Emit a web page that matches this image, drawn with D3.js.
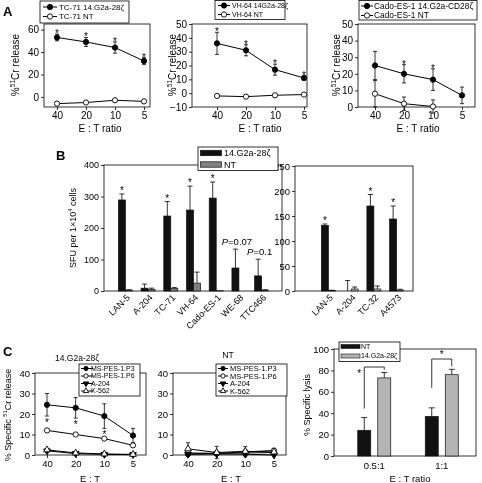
<!DOCTYPE html>
<html><head><meta charset="utf-8">
<script src="https://cdn.jsdelivr.net/npm/d3@7"></script>
<style>
body{margin:0;background:#fff}svg{display:block;will-change:transform}
svg text{font-family:"Liberation Sans", Arial, Helvetica, sans-serif; fill:#000;}
</style>
</head><body>
<script>
// ---------- DATA ----------
const etRatios = ["40","20","10","5"];
// Panel A
const a1Names = ["TC-71 14.G2a-28ζ","TC-71 NT"];
const a1Car = [53,49,44,32], a1CarErr = [3,4,5,3];
const a1NT = [-6,-5,-3,-4], a1NTErr = [1.5,1.2,1.5,1.2];
const a1Stars = ["*","*","*","*"];
const a2Names = ["VH-64 14G2a-28ζ","VH-64 NT"];
const a2Car = [36,31,17,11], a2CarErr = [8,4,4,1.5];
const a2NT = [-2,-2.5,-1.5,-1], a2NTErr = [0.8,0.8,0.8,0.8];
const a2Stars = ["*","*","*","*"];
const a3Names = ["Cado-ES-1 14.G2a-CD28ζ","Cado-ES-1 NT"];
const a3Car = [25,20,16.5,7], a3CarErr = [8.5,5.5,6.5,5];
const a3NT = [8,2,0.3,null], a3NTErr = [8,4,4,0];
const a3Stars = ["","*","*",""];
// Panel B
const bLegend = ["14.G2a-28ζ","NT"];
const b1Cats = ["LAN-5","A-204","TC-71","VH-64","Cado-ES-1","WE-68","TTC466"];
const b1Car = [289,9,238,257,295,73,48], b1CarErr = [19,13,46,76,51,60,53];
const b1NT = [3,5,8,25,1,0,3], b1NTErr = [1,4,3,35,0,0,1];
const b1Sig = ["*","","*","*","*","P=0.07","P=0.1"];
const b2Cats = ["LAN-5","A-204","TC-32","A4573"];
const b2Car = [131,0,170,144], b2CarErr = [3,21,23,26];
const b2NT = [1,4,4,2], b2NTErr = [0.5,4,6,1.5];
const b2Sig = ["*","","*","*"];
// Panel C
const cNames = ["MS-PES-1.P3","MS-PES-1.P6","A-204","K-562"];
const c1P3 = [24.5,23,19,9.5], c1P3Err = [5.5,5,6,3.5];
const c1P6 = [12,10,8,4.7], c1P6Err = [0.5,0.5,0.5,0.6];
const c1A204 = [2,0.7,0.3,0.2], c1A204Err = [0.3,0.3,0.2,0.2];
const c1K562 = [2.5,1,0.5,0.3], c1K562Err = [0.4,0.3,0.2,0.2];
const c1Stars = ["*","*","*",""];
const c2P3 = [0.5,0.8,1,1.2], c2P3Err = [0.5,0.5,0.5,0.5];
const c2P6 = [1,0.8,1.5,2.2], c2P6Err = [0.5,0.5,0.5,0.5];
const c2A204 = [0.3,0.5,0.4,0], c2A204Err = [0.3,0.3,0.3,0];
const c2K562 = [3,1.2,1.8,1.5], c2K562Err = [3,3,2.3,1.5];
const c3Cats = ["0.5:1","1:1"];
const c3Legend = ["NT","14.G2a-28ζ"];
const c3NT = [24,37], c3NTErr = [12,8];
const c3Car = [73,76], c3CarErr = [5,5];

// ---------- DRAWING ----------
const FONT = "'Liberation Sans', Arial, Helvetica, sans-serif";
const STAR = "*";
const svg = d3.select("body").append("svg").attr("width",482).attr("height",483)
  .attr("font-family",FONT);

function symPath(shape,small){
  const t = (shape==="tri"||shape==="triDown") ? d3.symbolTriangle : d3.symbolCircle;
  const base = shape.startsWith("tri")?20:22;
  return d3.symbol().type(t).size(small?base*0.65:base)();
}
function marker(g,x,y,shape,fill,small){
  g.append("path").attr("d",symPath(shape,small))
    .attr("transform",`translate(${x},${y})${shape==="triDown"?" rotate(180)":""}`)
    .attr("fill",fill?"#000":"#fff").attr("stroke","#000").attr("stroke-width",0.9);
}
function styleAxis(a,fs){
  a.select(".domain").remove();
  a.attr("font-family",FONT).attr("font-size",fs);
  a.selectAll("text").attr("fill","#000");
  a.selectAll("line").attr("stroke","#000").attr("stroke-width",0.8);
}
function rotLabel(x,y,fs,parts){
  const t = svg.append("text").attr("transform",`translate(${x},${y}) rotate(-90)`)
    .attr("text-anchor","middle").attr("font-size",fs).attr("fill","#000");
  parts.forEach(p=>{
    const s = t.append("tspan").text(p.t);
    if(p.sup){ s.attr("font-size",fs*0.65).attr("dy",-fs*0.4); }
    else if(p.after){ s.attr("dy",fs*0.4); }
  });
}
function lineLegend(o){
  const g = svg.append("g");
  g.append("rect").attr("x",o.x0).attr("y",o.y0).attr("width",o.x1-o.x0).attr("height",o.y1-o.y0)
    .attr("fill","#fff").attr("stroke","#000").attr("stroke-width",0.8);
  o.items.forEach((it,i)=>{
    const y = o.rows[i];
    g.append("line").attr("x1",o.lx0).attr("x2",o.lx1).attr("y1",y).attr("y2",y).attr("stroke","#000").attr("stroke-width",1);
    marker(g,o.mx,y,it.shape,it.fill,o.small);
    g.append("text").attr("x",o.tx).attr("y",y).attr("dy","0.35em").attr("font-size",o.fs).text(it.label);
  });
}
function linePanel(o){
  const g = svg.append("g");
  const y = d3.scaleLinear().domain(o.yDomain).range([o.box.y1,o.box.y0]);
  const x = d3.scalePoint().domain(etRatios).range(o.xr);
  g.append("rect").attr("x",o.box.x0).attr("y",o.box.y0).attr("width",o.box.x1-o.box.x0)
    .attr("height",o.box.y1-o.box.y0).attr("fill","none").attr("stroke","#000").attr("stroke-width",0.8);
  const ya = g.append("g").attr("transform",`translate(${o.box.x0},0)`)
    .call(d3.axisLeft(y).tickValues(o.yTicks).tickSize(3).tickPadding(2));
  styleAxis(ya,o.fs);
  const xa = g.append("g").attr("transform",`translate(0,${o.box.y1})`)
    .call(d3.axisBottom(x).tickSize(3).tickPadding(2));
  styleAxis(xa,o.fs);
  const layer = g.append("g");
  o.series.forEach(s=>{
    const pts = s.vals.map((v,i)=>({k:etRatios[i],v,e:s.errs[i]})).filter(d=>d.v!=null);
    layer.append("path").attr("d",d3.line().x(d=>x(d.k)).y(d=>y(d.v))(pts))
      .attr("fill","none").attr("stroke","#000").attr("stroke-width",1);
    pts.forEach(d=>{
      if(d.e>0){
        const cx=x(d.k), t=y(d.v+d.e), b=y(d.v-d.e);
        layer.append("line").attr("x1",cx).attr("x2",cx).attr("y1",t).attr("y2",b).attr("stroke","#000").attr("stroke-width",0.8);
        [t,b].forEach(yy=>layer.append("line").attr("x1",cx-2).attr("x2",cx+2).attr("y1",yy).attr("y2",yy).attr("stroke","#000").attr("stroke-width",0.8));
      }
    });
  });
  o.series.forEach(s=>{
    s.vals.forEach((v,i)=>{ if(v!=null) marker(layer,x(etRatios[i]),y(v),s.shape,s.fill); });
  });
  if(o.stars){
    const s0=o.series[0];
    o.stars.forEach((st,i)=>{
      if(!st) return;
      const v=s0.vals[i], e=s0.errs[i];
      const yy = o.starBelow ? y(v-e)+10 : y(v+e)+3;
      g.append("text").attr("x",x(etRatios[i])).attr("y",yy).attr("text-anchor","middle")
        .attr("font-size",10).text(STAR);
    });
  }
  if(o.xlabel) g.append("text").attr("x",o.xlabel.x).attr("y",o.xlabel.y).attr("text-anchor","middle")
    .attr("font-size",o.xlabel.fs).text(o.xlabel.t);
  return {x,y};
}
function barPanel(o){
  const g = svg.append("g");
  const y = d3.scaleLinear().domain(o.yDomain).range([o.box.y1,o.box.y0]);
  const x = d3.scaleBand().domain(o.cats).range(o.xr);
  const bw = 7;
  g.append("rect").attr("x",o.box.x0).attr("y",o.box.y0).attr("width",o.box.x1-o.box.x0)
    .attr("height",o.box.y1-o.box.y0).attr("fill","none").attr("stroke","#000").attr("stroke-width",0.8);
  const ya = g.append("g").attr("transform",`translate(${o.box.x0},0)`)
    .call(d3.axisLeft(y).tickValues(o.yTicks).tickSize(3).tickPadding(2));
  styleAxis(ya,o.fs);
  o.cats.forEach((c,i)=>{
    const gc = x(c)+x.bandwidth()/2;
    [[o.car[i],o.carErr[i],gc-bw,"#111"],[o.nt[i],o.ntErr[i],gc,o.ntFill]].forEach(([v,e,bx,fill])=>{
      const cx=bx+bw/2;
      if(e>0){
        g.append("line").attr("x1",cx).attr("x2",cx).attr("y1",y(v)).attr("y2",y(v+e)).attr("stroke","#000").attr("stroke-width",0.8);
        g.append("line").attr("x1",cx-2.5).attr("x2",cx+2.5).attr("y1",y(v+e)).attr("y2",y(v+e)).attr("stroke","#000").attr("stroke-width",0.8);
      }
      g.append("rect").attr("x",bx).attr("y",y(v)).attr("width",bw).attr("height",Math.max(0,y(0)-y(v)))
        .attr("fill",fill).attr("stroke","#111").attr("stroke-width",0.7);
    });
    const sig = o.sig[i];
    const top = y(o.car[i]+o.carErr[i]);
    if(sig==="*"){
      g.append("text").attr("x",gc-bw/2).attr("y",top).attr("text-anchor","middle").attr("font-size",10).text(STAR);
    } else if(sig){
      const t = g.append("text").attr("x",gc-2).attr("y",top-4).attr("text-anchor","middle").attr("font-size",9.5);
      t.append("tspan").attr("font-style","italic").text(sig.slice(0,1));
      t.append("tspan").text(sig.slice(1));
    }
    g.append("text").attr("transform",`translate(${gc+3},${o.box.y1+5}) rotate(-45)`)
      .attr("text-anchor","end").attr("dy","0.35em").attr("font-size",o.labelFs).text(c);
  });
}

// Panel letters
[["A",3,16],["B",56,160],["C",3,356]].forEach(([t,x,y])=>
  svg.append("text").attr("x",x).attr("y",y).attr("font-size",13).attr("font-weight","bold").text(t));

// ---- Panel A ----
const crLabel = [{t:"%"},{t:"51",sup:true},{t:"Cr release",after:true}];
linePanel({box:{x0:44,x1:150,y0:24,y1:107},yDomain:[-9,65],yTicks:[0,20,40,60],xr:[57,144],fs:10,
  series:[{vals:a1Car,errs:a1CarErr,shape:"circle",fill:true},{vals:a1NT,errs:a1NTErr,shape:"circle",fill:false}],
  stars:a1Stars,xlabel:{x:100,y:132,t:"E : T ratio",fs:10}});
rotLabel(18.5,65,10,crLabel);
lineLegend({x0:40,x1:129,y0:1,y1:23,rows:[7,16.5],lx0:43,lx1:57,mx:50,tx:59,fs:7.9,
  items:[{label:a1Names[0],shape:"circle",fill:true},{label:a1Names[1],shape:"circle",fill:false}]});

linePanel({box:{x0:192,x1:307,y0:24,y1:107},yDomain:[-10,50],yTicks:[-10,0,10,20,30,40,50],xr:[217,304],fs:10,
  series:[{vals:a2Car,errs:a2CarErr,shape:"circle",fill:true},{vals:a2NT,errs:a2NTErr,shape:"circle",fill:false}],
  stars:a2Stars,xlabel:{x:260,y:132,t:"E : T ratio",fs:10}});
rotLabel(175.5,65,10,crLabel);
lineLegend({x0:215,x1:285,y0:0.5,y1:19.5,rows:[5.5,14.5],lx0:218,lx1:230,mx:224,tx:232,fs:7,
  items:[{label:a2Names[0],shape:"circle",fill:true},{label:a2Names[1],shape:"circle",fill:false}]});

linePanel({box:{x0:358,x1:475,y0:24,y1:107},yDomain:[0,50],yTicks:[0,10,20,30,40,50],xr:[375,462],fs:10,
  series:[{vals:a3Car,errs:a3CarErr,shape:"circle",fill:true},{vals:a3NT,errs:a3NTErr,shape:"circle",fill:false}],
  stars:a3Stars,xlabel:{x:418,y:132,t:"E : T ratio",fs:10}});
rotLabel(339.5,65,10,crLabel);
lineLegend({x0:359,x1:477,y0:0.5,y1:20,rows:[6,15.5],lx0:361,lx1:373,mx:367,tx:374,fs:8.4,
  items:[{label:a3Names[0],shape:"circle",fill:true},{label:a3Names[1],shape:"circle",fill:false}]});

// ---- Panel B ----
barPanel({box:{x0:104,x1:282,y0:165,y1:291},yDomain:[0,400],yTicks:[0,100,200,300,400],xr:[114,273],fs:9,
  cats:b1Cats,car:b1Car,carErr:b1CarErr,nt:b1NT,ntErr:b1NTErr,ntFill:"#808080",sig:b1Sig,labelFs:9});
barPanel({box:{x0:295,x1:413,y0:166,y1:291},yDomain:[0,250],yTicks:[0,50,100,150,200,250],xr:[317,408],fs:9.5,
  cats:b2Cats,car:b2Car,carErr:b2CarErr,nt:b2NT,ntErr:b2NTErr,ntFill:"#b0b0b0",sig:b2Sig,labelFs:9});
rotLabel(76,228,9,[{t:"SFU per 1×10"},{t:"4",sup:true},{t:" cells",after:true}]);
{
  const g = svg.append("g");
  g.append("rect").attr("x",198).attr("y",147).attr("width",80).attr("height",23.5)
    .attr("fill","#fff").attr("stroke","#000").attr("stroke-width",0.8);
  [["#111",153,bLegend[0]],["#808080",164.5,bLegend[1]]].forEach(([f,yy,t])=>{
    g.append("rect").attr("x",200.5).attr("y",yy-2.7).attr("width",21).attr("height",5.4).attr("fill",f).attr("stroke","#111").attr("stroke-width",0.7);
    g.append("text").attr("x",224).attr("y",yy).attr("dy","0.35em").attr("font-size",9).text(t);
  });
}

// ---- Panel C ----
const cSeries1 = [
  {vals:c1P3,errs:c1P3Err,shape:"circle",fill:true},
  {vals:c1P6,errs:c1P6Err,shape:"circle",fill:false},
  {vals:c1A204,errs:c1A204Err,shape:"triDown",fill:true},
  {vals:c1K562,errs:c1K562Err,shape:"tri",fill:false}];
const cSeries2 = [
  {vals:c2P3,errs:c2P3Err,shape:"circle",fill:true},
  {vals:c2P6,errs:c2P6Err,shape:"circle",fill:false},
  {vals:c2A204,errs:c2A204Err,shape:"triDown",fill:true},
  {vals:c2K562,errs:c2K562Err,shape:"tri",fill:false}];
const cItems = cNames.map((n,i)=>({label:n,shape:cSeries1[i].shape,fill:cSeries1[i].fill}));

linePanel({box:{x0:35,x1:146,y0:373,y1:455},yDomain:[0,40],yTicks:[0,10,20,30,40],xr:[47,133],fs:9.5,
  series:cSeries1,stars:c1Stars,starBelow:true,xlabel:{x:90,y:482,t:"E : T",fs:9.5}});
svg.append("text").attr("x",77).attr("y",361).attr("text-anchor","middle").attr("font-size",8.5).text("14.G2a-28ζ");
rotLabel(11,415,9,[{t:"% Specific "},{t:"51",sup:true},{t:"Cr release",after:true}]);
lineLegend({x0:79,x1:140,y0:364,y1:396,rows:[368.5,376,383.5,391],lx0:81,lx1:93,mx:86,tx:91,fs:7,small:true,items:cItems});

linePanel({box:{x0:173,x1:286,y0:373,y1:455},yDomain:[0,40],yTicks:[0,10,20,30,40],xr:[188,274],fs:9.5,
  series:cSeries2,xlabel:{x:231,y:482,t:"E : T",fs:9.5}});
svg.append("text").attr("x",228).attr("y",358).attr("text-anchor","middle").attr("font-size",8.5).text("NT");
lineLegend({x0:216,x1:287,y0:364,y1:396,rows:[368.5,376,383.5,391],lx0:218,lx1:228,mx:223,tx:230,fs:7.5,small:true,items:cItems});

// C3 bars
{
  const box={x0:334,x1:476,y0:349,y1:456};
  const g = svg.append("g");
  const y = d3.scaleLinear().domain([0,100]).range([box.y1,box.y0]);
  const x = d3.scaleBand().domain(c3Cats).range([340.5,475.5]);
  const bw=13;
  g.append("rect").attr("x",box.x0).attr("y",box.y0).attr("width",box.x1-box.x0).attr("height",box.y1-box.y0)
    .attr("fill","none").attr("stroke","#000").attr("stroke-width",0.8);
  const ya = g.append("g").attr("transform",`translate(${box.x0},0)`)
    .call(d3.axisLeft(y).tickValues([0,20,40,60,80,100]).tickSize(3).tickPadding(2));
  styleAxis(ya,9.5);
  const xa = g.append("g").attr("transform",`translate(0,${box.y1})`)
    .call(d3.axisBottom(x).tickSize(0).tickPadding(6));
  styleAxis(xa,9.5);
  c3Cats.forEach((c,i)=>{
    const gc = x(c)+x.bandwidth()/2;
    const bars = [[c3NT[i],c3NTErr[i],gc-16.5,"#111"],[c3Car[i],c3CarErr[i],gc+3.5,"#b4b4b4"]];
    bars.forEach(([v,e,bx,f])=>{
      const cx=bx+bw/2;
      g.append("line").attr("x1",cx).attr("x2",cx).attr("y1",y(v)).attr("y2",y(v+e)).attr("stroke","#000").attr("stroke-width",0.8);
      g.append("line").attr("x1",cx-3).attr("x2",cx+3).attr("y1",y(v+e)).attr("y2",y(v+e)).attr("stroke","#000").attr("stroke-width",0.8);
      g.append("rect").attr("x",bx).attr("y",y(v)).attr("width",bw).attr("height",y(0)-y(v))
        .attr("fill",f).attr("stroke","#111").attr("stroke-width",0.7);
    });
    const lx = gc-10, rx = gc+10;
    const hy = i===0 ? 367 : 359;
    const ly = y(c3NT[i]+c3NTErr[i]) - (i===0?9:20);
    const ry = y(c3Car[i]+c3CarErr[i]) - 3;
    g.append("path").attr("d",`M${lx},${ly}V${hy}H${rx}V${ry}`).attr("fill","none").attr("stroke","#000").attr("stroke-width",0.8);
    g.append("text").attr("x", i===0 ? lx-5 : gc).attr("y", i===0 ? 377 : 358).attr("text-anchor","middle").attr("font-size",10).text(STAR);
  });
  g.append("text").attr("x",410).attr("y",482).attr("text-anchor","middle").attr("font-size",9.5).text("E : T ratio");
  g.append("rect").attr("x",339).attr("y",342).attr("width",61).attr("height",19.5)
    .attr("fill","#fff").attr("stroke","#000").attr("stroke-width",0.8);
  [["#111",346.5,c3Legend[0]],["#b4b4b4",356,c3Legend[1]]].forEach(([f,yy,t])=>{
    g.append("rect").attr("x",341).attr("y",yy-2).attr("width",19).attr("height",4).attr("fill",f).attr("stroke","#111").attr("stroke-width",0.6);
    g.append("text").attr("x",361).attr("y",yy).attr("dy","0.35em").attr("font-size",7).text(t);
  });
}
rotLabel(310,405,9,[{t:"% Specific lysis"}]);
</script>
</body></html>
